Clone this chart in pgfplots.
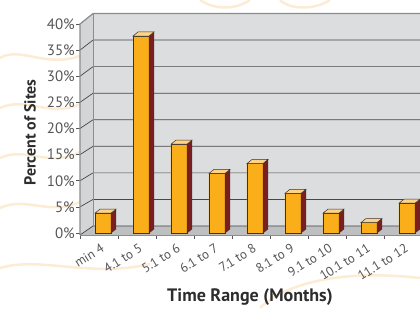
\documentclass[border=0pt]{standalone}
\usepackage{pgfplots}
\pgfplotsset{compat=1.18}
\usepackage{fontspec}
\setmainfont{PT Sans}
\definecolor{wallback}{RGB}{220,221,223}
\definecolor{wallleft}{RGB}{212,213,215}
\definecolor{floorc}{RGB}{190,191,193}
\definecolor{gridc}{RGB}{70,70,70}
\definecolor{borderc}{RGB}{140,140,142}
\definecolor{barfront}{RGB}{250,174,26}
\definecolor{barside}{RGB}{122,30,32}
\definecolor{bartop}{RGB}{253,212,135}
\definecolor{barline}{RGB}{60,50,45}
\definecolor{ticktext}{RGB}{85,85,85}
\definecolor{titletext}{RGB}{45,45,45}
\definecolor{swirl}{RGB}{252,236,212}
\begin{document}
\begin{tikzpicture}
% faint background decoration
\begin{scope}[swirl, line width=2.5pt]
\draw (0pt,250pt) .. controls (20pt,262pt) and (45pt,240pt) .. (80pt,252pt);
\draw (0pt,200pt) .. controls (25pt,212pt) and (50pt,190pt) .. (80pt,204pt);
\draw (0pt,150pt) .. controls (25pt,162pt) and (50pt,140pt) .. (80pt,156pt);
\draw (0pt,100pt) .. controls (25pt,112pt) and (50pt,92pt) .. (80pt,106pt);
\draw (0pt,40pt) .. controls (40pt,52pt) and (90pt,30pt) .. (150pt,44pt);
\draw (260pt,0pt) .. controls (280pt,20pt) and (330pt,40pt) .. (420pt,30pt);
\draw (200pt,308pt) .. controls (215pt,298pt) and (235pt,298pt) .. (250pt,308pt);
\draw (280pt,308pt) .. controls (290pt,298pt) and (315pt,298pt) .. (330pt,308pt);
\end{scope}
\begin{axis}[
  at={(80pt,73pt)}, anchor=south west,
  scale only axis, width=342pt, height=211pt,
  xmin=-0.5, xmax=8.5, ymin=-0.383, ymax=40,
  clip=false,
  axis line style={draw=none},
  tick align=outside, major tick length=4pt,
  xtick pos=bottom, ytick pos=left,
  tick style={draw=ticktext, line width=0.7pt},
  xtick={-0.5,0.5,...,8.5},
  x tick label as interval,
  xticklabels={min 4,4.1 to 5,5.1 to 6,6.1 to 7,7.1 to 8,8.1 to 9,9.1 to 10\hspace{-7pt},10.1 to 11\hspace{-12pt},11.1 to 12\hspace{-14pt}},
  xticklabel style={rotate=32, anchor=north east, inner sep=1pt, yshift=-3pt, xshift=0pt,
    font=\fontsize{13}{13}\selectfont, text=ticktext},
  ytick={0,5,...,40},
  yticklabels={0\%,5\%,10\%,15\%,20\%,25\%,30\%,35\%,40\%},
  yticklabel style={inner sep=1pt, font=\fontsize{15}{15}\selectfont, text=ticktext},
  /pgf/number format/assume math mode=true,
  xlabel={Time Range (Months)},
  xlabel style={at={(axis description cs:0.497,-0.294)}, anchor=center,
    font=\bfseries\fontsize{18}{18}\selectfont, text=titletext},
  ylabel={Percent of Sites},
  ylabel style={at={(axis description cs:-0.146,0.486)}, anchor=center, rotate=0,
    font=\bfseries\fontsize{16}{16}\selectfont, text=titletext},
]
% walls and floor
\addplot[fill=wallback, draw=none, forget plot] coordinates {(-0.158,1.34) (-0.158,42.0) (8.6,42.0) (8.6,1.34)} --cycle;
\addplot[fill=wallleft, draw=none, forget plot] coordinates {(-0.5,-0.383) (-0.5,40) (-0.158,42.0) (-0.158,1.34)} --cycle;
\addplot[fill=floorc, draw=none, forget plot] coordinates {(-0.5,-0.383) (-0.158,1.34) (8.6,1.34) (8.6,-0.383)} --cycle;
% grid lines (left wall diagonal + back wall horizontal)
\addplot[draw=gridc, line width=0.7pt, unbounded coords=jump, forget plot] coordinates {
 (-0.5,5) (-0.158,6.42) (8.6,6.42) (0,nan)
 (-0.5,10) (-0.158,11.51) (8.6,11.51) (0,nan)
 (-0.5,15) (-0.158,16.59) (8.6,16.59) (0,nan)
 (-0.5,20) (-0.158,21.67) (8.6,21.67) (0,nan)
 (-0.5,25) (-0.158,26.75) (8.6,26.75) (0,nan)
 (-0.5,30) (-0.158,31.84) (8.6,31.84) (0,nan)
 (-0.5,35) (-0.158,36.92) (8.6,36.92) (0,nan)
 (-0.5,-0.383) (-0.158,1.34) (8.6,1.34)
};
% borders
\addplot[draw=borderc, line width=1.2pt, forget plot] coordinates {(-0.5,-0.383) (-0.5,40) (-0.158,42.0) (8.6,42.0)};
\addplot[draw=borderc, line width=0.8pt, forget plot] coordinates {(-0.158,1.34) (-0.158,42.0)};
\addplot[draw=borderc, line width=0.8pt, forget plot] coordinates {(-0.5,-0.383) (8.6,-0.383)};
% bar front faces
\addplot[ybar, bar width=16pt, bar shift=4pt, fill=barfront, draw=barline, line width=0.5pt, forget plot]
 coordinates {(0,3.8) (1,37.7) (2,17.0) (3,11.4) (4,13.3) (5,7.6) (6,3.8) (7,2.0) (8,5.7)};
% bar side faces
\addplot[fill=barside, draw=barline, line width=0.5pt, forget plot] coordinates {(0.316,0) (0.447,0.77) (0.447,4.57) (0.316,3.8)} --cycle;
\addplot[fill=barside, draw=barline, line width=0.5pt, forget plot] coordinates {(1.316,0) (1.447,0.77) (1.447,38.47) (1.316,37.7)} --cycle;
\addplot[fill=barside, draw=barline, line width=0.5pt, forget plot] coordinates {(2.316,0) (2.447,0.77) (2.447,17.77) (2.316,17.0)} --cycle;
\addplot[fill=barside, draw=barline, line width=0.5pt, forget plot] coordinates {(3.316,0) (3.447,0.77) (3.447,12.17) (3.316,11.4)} --cycle;
\addplot[fill=barside, draw=barline, line width=0.5pt, forget plot] coordinates {(4.316,0) (4.447,0.77) (4.447,14.07) (4.316,13.3)} --cycle;
\addplot[fill=barside, draw=barline, line width=0.5pt, forget plot] coordinates {(5.316,0) (5.447,0.77) (5.447,8.37) (5.316,7.6)} --cycle;
\addplot[fill=barside, draw=barline, line width=0.5pt, forget plot] coordinates {(6.316,0) (6.447,0.77) (6.447,4.57) (6.316,3.8)} --cycle;
\addplot[fill=barside, draw=barline, line width=0.5pt, forget plot] coordinates {(7.316,0) (7.447,0.77) (7.447,2.77) (7.316,2.0)} --cycle;
\addplot[fill=barside, draw=barline, line width=0.5pt, forget plot] coordinates {(8.316,0) (8.447,0.77) (8.447,6.47) (8.316,5.7)} --cycle;
% bar top faces
\addplot[fill=bartop, draw=barline, line width=0.5pt, forget plot] coordinates {(-0.105,3.8) (0.026,4.57) (0.447,4.57) (0.316,3.8)} --cycle;
\addplot[fill=bartop, draw=barline, line width=0.5pt, forget plot] coordinates {(0.895,37.7) (1.026,38.47) (1.447,38.47) (1.316,37.7)} --cycle;
\addplot[fill=bartop, draw=barline, line width=0.5pt, forget plot] coordinates {(1.895,17.0) (2.026,17.77) (2.447,17.77) (2.316,17.0)} --cycle;
\addplot[fill=bartop, draw=barline, line width=0.5pt, forget plot] coordinates {(2.895,11.4) (3.026,12.17) (3.447,12.17) (3.316,11.4)} --cycle;
\addplot[fill=bartop, draw=barline, line width=0.5pt, forget plot] coordinates {(3.895,13.3) (4.026,14.07) (4.447,14.07) (4.316,13.3)} --cycle;
\addplot[fill=bartop, draw=barline, line width=0.5pt, forget plot] coordinates {(4.895,7.6) (5.026,8.37) (5.447,8.37) (5.316,7.6)} --cycle;
\addplot[fill=bartop, draw=barline, line width=0.5pt, forget plot] coordinates {(5.895,3.8) (6.026,4.57) (6.447,4.57) (6.316,3.8)} --cycle;
\addplot[fill=bartop, draw=barline, line width=0.5pt, forget plot] coordinates {(6.895,2.0) (7.026,2.77) (7.447,2.77) (7.316,2.0)} --cycle;
\addplot[fill=bartop, draw=barline, line width=0.5pt, forget plot] coordinates {(7.895,5.7) (8.026,6.47) (8.447,6.47) (8.316,5.7)} --cycle;
\end{axis}
\pgfresetboundingbox
\path[use as bounding box] (0,0) rectangle (420pt,308pt);
\end{tikzpicture}
\end{document}
